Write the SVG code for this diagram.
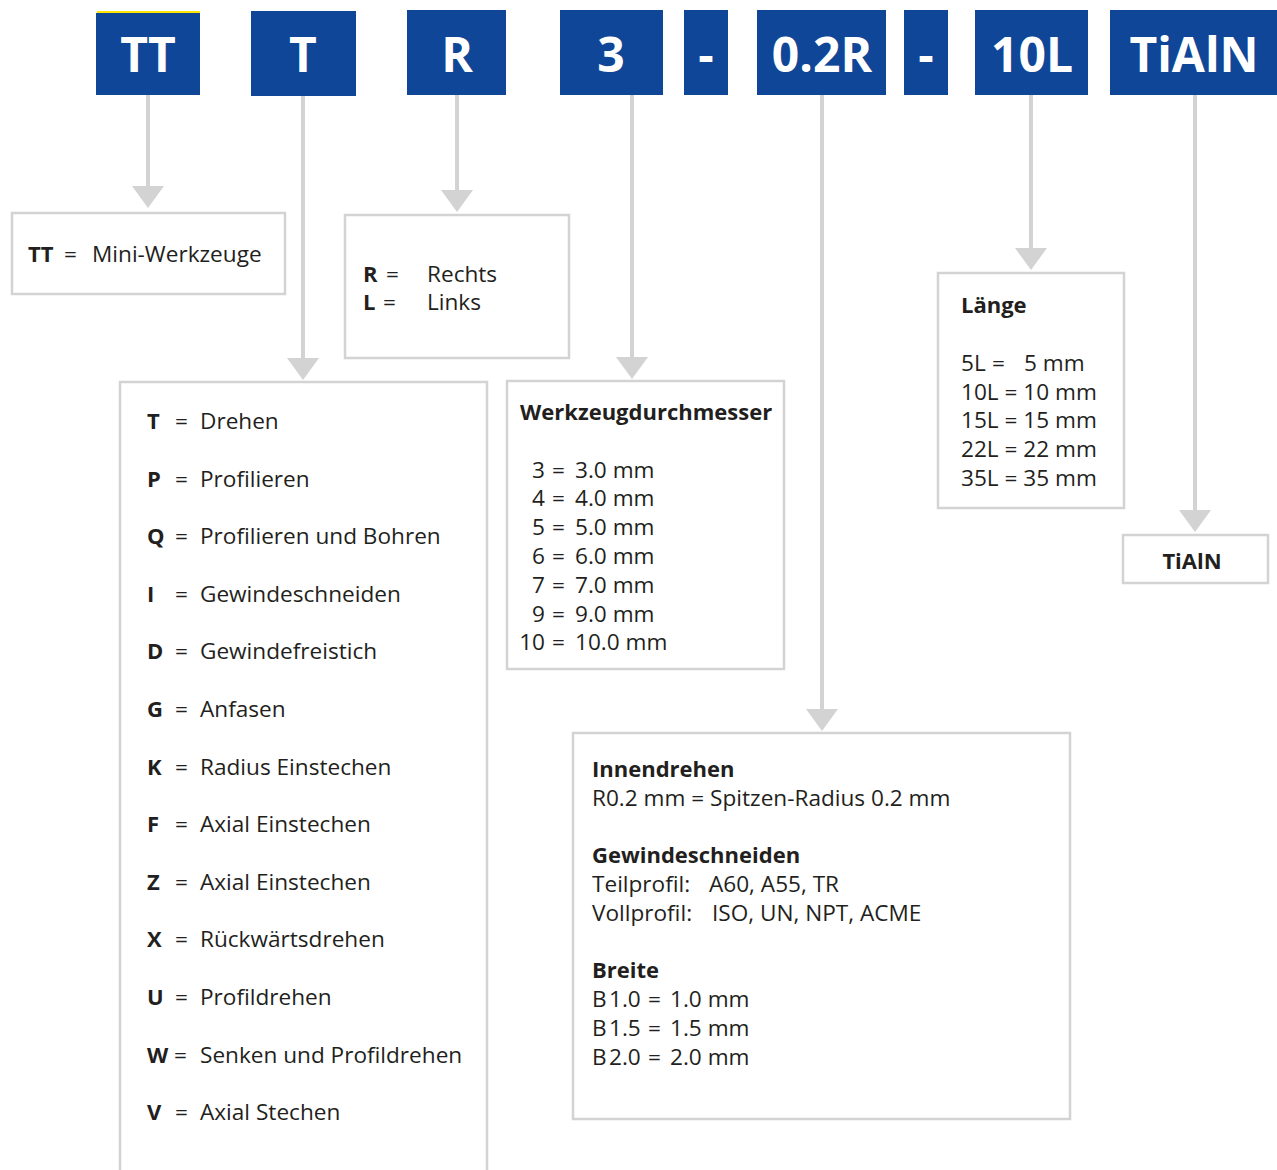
<svg xmlns="http://www.w3.org/2000/svg" width="1277" height="1170" viewBox="0 0 1277 1170">
<style>
.hdr{fill:#104697}
.ht{font-family:"Open Sans","Noto Sans",sans-serif;font-weight:700;font-size:48px;fill:#fff;text-anchor:middle}
.box{fill:#fff;stroke:#d3d3d3;stroke-width:2.5}
.t{font-family:"Open Sans","Noto Sans",sans-serif;font-size:22.6px;fill:#231f20}
.b{font-weight:700;font-size:22px}
.con{stroke:#d3d3d3;stroke-width:4;fill:none;marker-end:url(#ah)}
</style>
<defs>
<marker id="ah" markerUnits="userSpaceOnUse" viewBox="0 0 22 32" markerWidth="22" markerHeight="32" refX="10" refY="16" orient="auto">
<path d="M0,0 L22,16 L0,32 Z" fill="#d3d3d3"/>
</marker>
</defs>
<rect width="1277" height="1170" fill="#fff"/>
<g id="connectors">
<line class="con" x1="148" y1="95" x2="148" y2="196"/>
<line class="con" x1="303" y1="96" x2="303" y2="368"/>
<line class="con" x1="457" y1="95" x2="457" y2="200"/>
<line class="con" x1="632" y1="95" x2="632" y2="367"/>
<line class="con" x1="822" y1="95" x2="822" y2="719"/>
<line class="con" x1="1031" y1="95" x2="1031" y2="258"/>
<line class="con" x1="1195" y1="95" x2="1195" y2="520"/>
</g>
<g id="hdr-TT">
<rect x="97" y="11" width="103" height="2" fill="#ffe500"/>
<rect class="hdr" x="96" y="13" width="104" height="82"/>
<text class="ht" x="148" y="72">TT</text>
</g>
<g id="hdr-T">
<rect class="hdr" x="251" y="11" width="105" height="85"/>
<text class="ht" x="303" y="72">T</text>
</g>
<g id="hdr-R">
<rect class="hdr" x="407" y="10" width="99" height="85"/>
<text class="ht" x="457" y="72">R</text>
</g>
<g id="hdr-3">
<rect class="hdr" x="560" y="10" width="103" height="85"/>
<text class="ht" x="611" y="72">3</text>
</g>
<g id="hdr-dash1">
<rect class="hdr" x="684" y="10" width="44" height="85"/>
<text class="ht" x="706" y="72">-</text>
</g>
<g id="hdr-02R">
<rect class="hdr" x="757" y="10" width="129" height="85"/>
<text class="ht" x="822" y="72">0.2R</text>
</g>
<g id="hdr-dash2">
<rect class="hdr" x="904" y="10" width="44" height="85"/>
<text class="ht" x="926" y="72">-</text>
</g>
<g id="hdr-10L">
<rect class="hdr" x="975" y="10" width="113" height="85"/>
<text class="ht" x="1032" y="72">10L</text>
</g>
<g id="hdr-TiAlN">
<rect class="hdr" x="1110" y="10" width="167" height="85"/>
<text class="ht" x="1194" y="72">TiAlN</text>
</g>
<g id="box-TT">
<rect class="box" x="12" y="213" width="273" height="81"/>
<text class="t" y="262"><tspan class="b" x="28">TT</tspan><tspan x="64">=</tspan><tspan x="92">Mini-Werkzeuge</tspan></text>
</g>
<g id="box-R">
<rect class="box" x="345" y="215" width="224" height="143"/>
<text class="t" y="282"><tspan class="b" x="363">R</tspan><tspan x="386">=</tspan><tspan x="427">Rechts</tspan></text>
<text class="t" y="310"><tspan class="b" x="363">L</tspan><tspan x="383">=</tspan><tspan x="427">Links</tspan></text>
</g>
<g id="box-T">
<rect class="box" x="120" y="382" width="367" height="800"/>
<g class="t">
<text y="429"><tspan class="b" x="147">T</tspan><tspan x="175">=</tspan><tspan x="200">Drehen</tspan></text>
<text y="487"><tspan class="b" x="147">P</tspan><tspan x="175">=</tspan><tspan x="200">Profilieren</tspan></text>
<text y="544"><tspan class="b" x="147">Q</tspan><tspan x="175">=</tspan><tspan x="200">Profilieren und Bohren</tspan></text>
<text y="602"><tspan class="b" x="147">I</tspan><tspan x="175">=</tspan><tspan x="200">Gewindeschneiden</tspan></text>
<text y="659"><tspan class="b" x="147">D</tspan><tspan x="175">=</tspan><tspan x="200">Gewindefreistich</tspan></text>
<text y="717"><tspan class="b" x="147">G</tspan><tspan x="175">=</tspan><tspan x="200">Anfasen</tspan></text>
<text y="775"><tspan class="b" x="147">K</tspan><tspan x="175">=</tspan><tspan x="200">Radius Einstechen</tspan></text>
<text y="832"><tspan class="b" x="147">F</tspan><tspan x="175">=</tspan><tspan x="200">Axial Einstechen</tspan></text>
<text y="890"><tspan class="b" x="147">Z</tspan><tspan x="175">=</tspan><tspan x="200">Axial Einstechen</tspan></text>
<text y="947"><tspan class="b" x="147">X</tspan><tspan x="175">=</tspan><tspan x="200">Rückwärtsdrehen</tspan></text>
<text y="1005"><tspan class="b" x="147">U</tspan><tspan x="175">=</tspan><tspan x="200">Profildrehen</tspan></text>
<text y="1063"><tspan class="b" x="147">W</tspan><tspan x="174">=</tspan><tspan x="200">Senken und Profildrehen</tspan></text>
<text y="1120"><tspan class="b" x="147">V</tspan><tspan x="175">=</tspan><tspan x="200">Axial Stechen</tspan></text>
</g>
</g>
<g id="box-3">
<rect class="box" x="507" y="381" width="277" height="288"/>
<g class="t">
<text class="b" x="520" y="420">Werkzeugdurchmesser</text>
<text y="478"><tspan x="545" text-anchor="end">3</tspan><tspan x="552">=</tspan><tspan x="575">3.0 mm</tspan></text>
<text y="506"><tspan x="545" text-anchor="end">4</tspan><tspan x="552">=</tspan><tspan x="575">4.0 mm</tspan></text>
<text y="535"><tspan x="545" text-anchor="end">5</tspan><tspan x="552">=</tspan><tspan x="575">5.0 mm</tspan></text>
<text y="564"><tspan x="545" text-anchor="end">6</tspan><tspan x="552">=</tspan><tspan x="575">6.0 mm</tspan></text>
<text y="593"><tspan x="545" text-anchor="end">7</tspan><tspan x="552">=</tspan><tspan x="575">7.0 mm</tspan></text>
<text y="622"><tspan x="545" text-anchor="end">9</tspan><tspan x="552">=</tspan><tspan x="575">9.0 mm</tspan></text>
<text y="650"><tspan x="545" text-anchor="end">10</tspan><tspan x="552">=</tspan><tspan x="575">10.0 mm</tspan></text>
</g>
</g>
<g id="box-02R">
<rect class="box" x="573" y="733" width="497" height="386"/>
<g class="t">
<text class="b" x="592" y="777">Innendrehen</text>
<text x="592" y="806">R0.2 mm = Spitzen-Radius 0.2 mm</text>
<text class="b" x="592" y="863">Gewindeschneiden</text>
<text y="892"><tspan x="592">Teilprofil:</tspan><tspan x="709">A60, A55, TR</tspan></text>
<text y="921"><tspan x="592">Vollprofil:</tspan><tspan x="712">ISO, UN, NPT, ACME</tspan></text>
<text class="b" x="592" y="978">Breite</text>
<text y="1007"><tspan x="592">B</tspan><tspan x="609">1.0</tspan><tspan x="648">=</tspan><tspan x="670">1.0 mm</tspan></text>
<text y="1036"><tspan x="592">B</tspan><tspan x="609">1.5</tspan><tspan x="648">=</tspan><tspan x="670">1.5 mm</tspan></text>
<text y="1065"><tspan x="592">B</tspan><tspan x="609">2.0</tspan><tspan x="648">=</tspan><tspan x="670">2.0 mm</tspan></text>
</g>
</g>
<g id="box-10L">
<rect class="box" x="938" y="273" width="186" height="235"/>
<g class="t">
<text class="b" x="961" y="313">Länge</text>
<text y="371"><tspan x="961">5L</tspan><tspan x="992">=</tspan><tspan x="1024">5 mm</tspan></text>
<text x="961" y="400">10L = 10 mm</text>
<text x="961" y="428">15L = 15 mm</text>
<text x="961" y="457">22L = 22 mm</text>
<text x="961" y="486">35L = 35 mm</text>
</g>
</g>
<g id="box-TiAlN">
<rect class="box" x="1123" y="535" width="145" height="48"/>
<text class="t b" x="1192" y="569" text-anchor="middle">TiAlN</text>
</g>
</svg>
